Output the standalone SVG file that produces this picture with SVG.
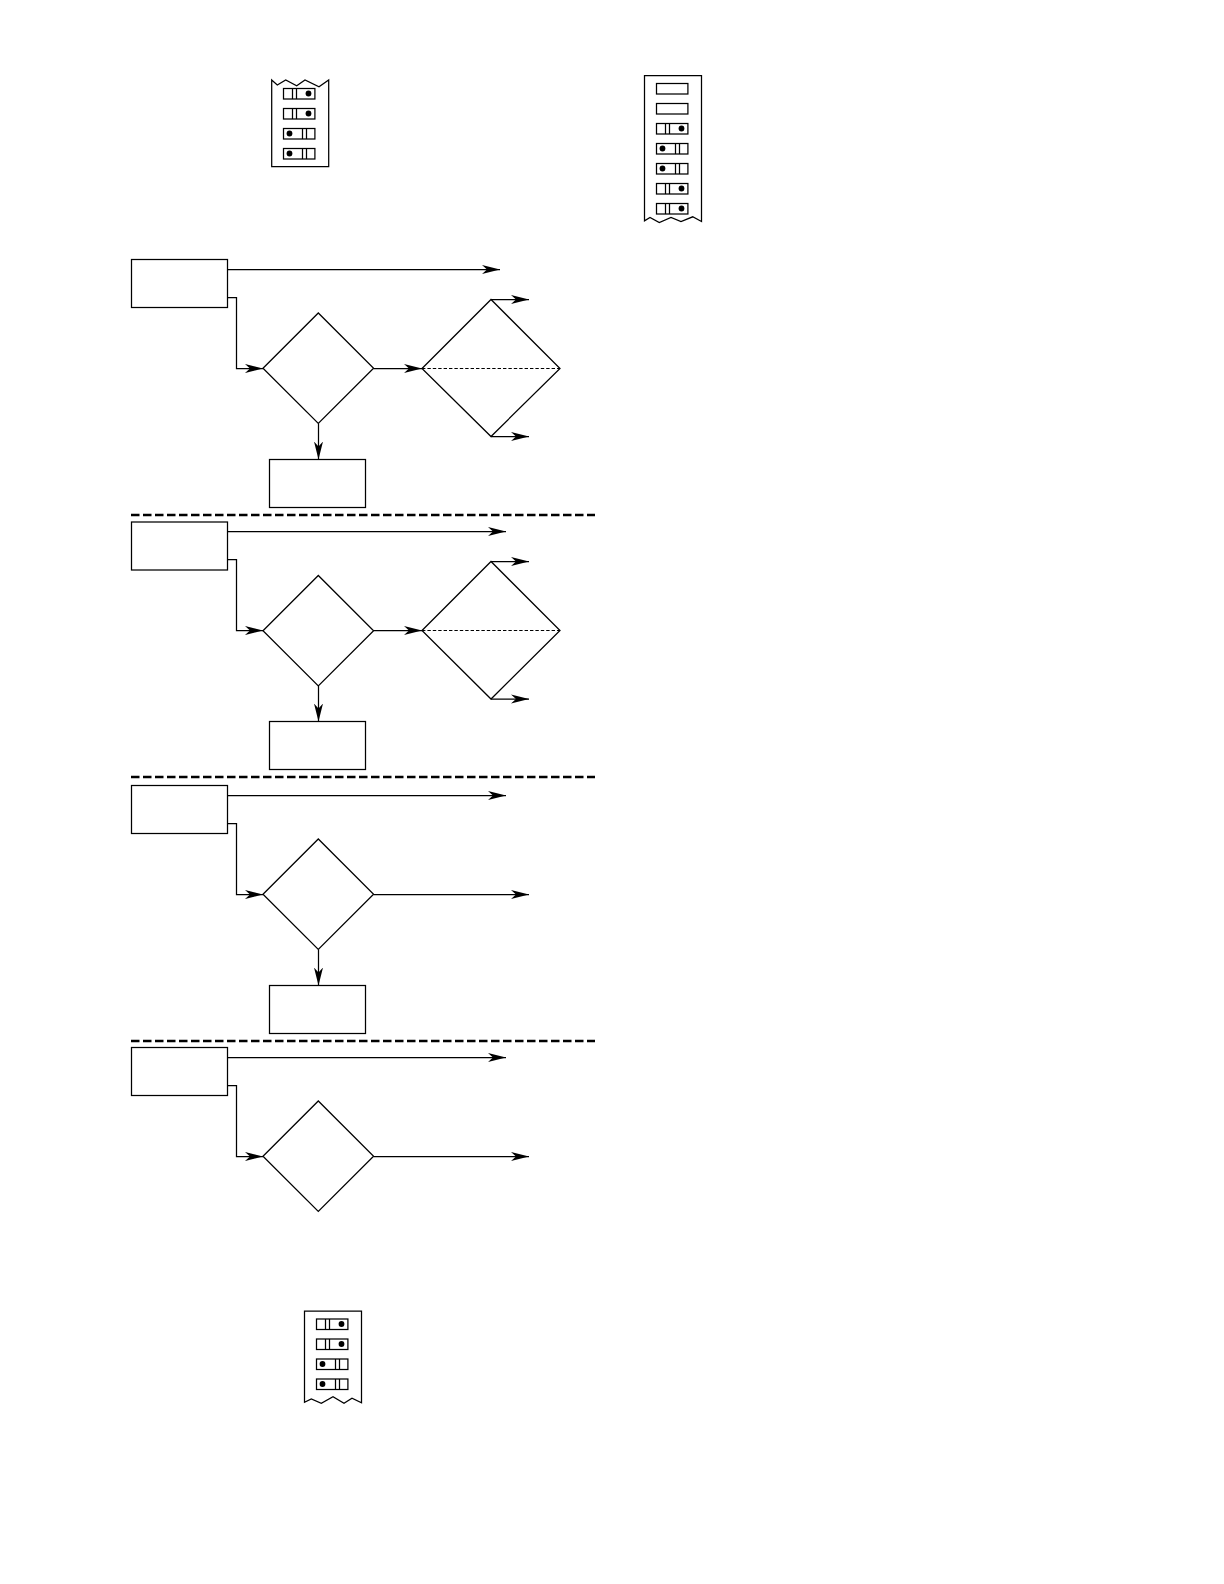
<svg xmlns="http://www.w3.org/2000/svg" width="1224" height="1584" viewBox="0 0 1224 1584">
<style>
.s{fill:none;stroke:#000;stroke-width:1.25}
.a{marker-end:url(#ah)}
.sep{fill:none;stroke:#000;stroke-width:2.3;stroke-dasharray:8.5 3.5}
.dot{fill:none;stroke:#000;stroke-width:1.1;stroke-dasharray:3.4 2}
.d{fill:#000;stroke:none}
</style>
<defs>
<marker id="ah" markerUnits="userSpaceOnUse" markerWidth="20" markerHeight="11" refX="18" refY="5.5" orient="auto"><path d="M0 1 L18 5.5 L0 10 L5 5.5Z" fill="#000"/></marker>
<g id="sl"><rect class="s" width="31.4" height="10.5"/><path class="s" d="M9 0V10.5M13 0V10.5"/><circle class="d" cx="25" cy="5" r="2.9"/></g>
<g id="sr"><rect class="s" width="31.4" height="10.5"/><path class="s" d="M19 0V10.5M23 0V10.5"/><circle class="d" cx="6" cy="5" r="2.9"/></g>
<rect id="se" class="s" width="31.4" height="10.5"/>
<g id="row0"><rect class="s" x="131.5" y="259.5" width="96" height="48"/><path class="s" d="M263 368.2L318.3 313L373.6 368.2L318.3 423.4Z"/></g>
</defs>
<g id="strip-top-left">
<path class="s" d="M271.7 80L277.3 85L285.7 80L296.7 85.7L305 80L319 86.7L328.7 80V166.7H271.7Z"/>
<use href="#sl" x="283.5" y="88.5"/><use href="#sl" x="283.5" y="108.5"/><use href="#sr" x="283.5" y="128.5"/><use href="#sr" x="283.5" y="148.5"/>
</g>
<g id="strip-top-right">
<path class="s" d="M644.5 75.5H701.5V221.5L692.7 216.8L681 221.5L671 217.5L659.3 222.5L650 217.5L644.5 220.8Z"/>
<use href="#se" x="656.5" y="83.5"/><use href="#se" x="656.5" y="103.5"/><use href="#sl" x="656.5" y="123.5"/><use href="#sr" x="656.5" y="143.5"/><use href="#sr" x="656.5" y="163.5"/><use href="#sl" x="656.5" y="183.5"/><use href="#sl" x="656.5" y="203.5"/>
</g>
<g id="strip-bottom">
<path class="s" d="M304.5 1311H361.5V1402.7L352 1398.3L344 1403.3L333 1396.7L321.3 1403.3L311.3 1399L304.5 1402.3Z"/>
<use href="#sl" x="316.5" y="1319"/><use href="#sl" x="316.5" y="1339"/><use href="#sr" x="316.5" y="1359"/><use href="#sr" x="316.5" y="1379"/>
</g>
<g id="node-a1"><use href="#row0"/></g>
<g id="node-a2"><rect class="s" x="269.5" y="459.5" width="96" height="48"/></g>
<g id="node-a3"><path class="s" d="M422 368.5L491 299.5L560 368.5L491 436.5Z"/><path class="dot" d="M422 368.5H560"/></g>
<g id="node-b1"><use href="#row0" y="262.5"/></g>
<g id="node-b2"><rect class="s" x="269.5" y="721.5" width="96" height="48"/></g>
<g id="node-b3"><path class="s" d="M422 630.5L491 561.5L560 630.5L491 699L491 699Z"/><path class="dot" d="M422 630.5H560"/></g>
<g id="node-c1"><use href="#row0" y="526"/></g>
<g id="node-c2"><rect class="s" x="269.5" y="985.5" width="96" height="48"/></g>
<g id="node-d1"><use href="#row0" y="788"/></g>
<g id="connectors">
<path class="s a" d="M227.5 269.5H500"/><path class="s a" d="M227.5 297.5H236.5V368.5H263"/><path class="s a" d="M373.6 368.5H422"/><path class="s a" d="M318.5 423.5V459.5"/><path class="s a" d="M491 299.5H529"/><path class="s a" d="M491 436.5H529"/>
<path class="s a" d="M227.5 531.5H506"/><path class="s a" d="M227.5 559.5H236.5V630.5H263"/><path class="s a" d="M373.6 630.5H422"/><path class="s a" d="M318.5 686V721.5"/><path class="s a" d="M491 561.5H529"/><path class="s a" d="M491 699H529"/>
<path class="s a" d="M227.5 795.5H506"/><path class="s a" d="M227.5 823.5H236.5V894.5H263"/><path class="s a" d="M373.6 894.5H529"/><path class="s a" d="M318.5 949.5V985.5"/>
<path class="s a" d="M227.5 1057.5H506"/><path class="s a" d="M227.5 1085.5H236.5V1156.5H263"/><path class="s a" d="M373.6 1156.5H529"/>
<path class="sep" d="M131 515H595"/><path class="sep" d="M131 777H595"/><path class="sep" d="M131 1041H595"/>
</g>
</svg>
